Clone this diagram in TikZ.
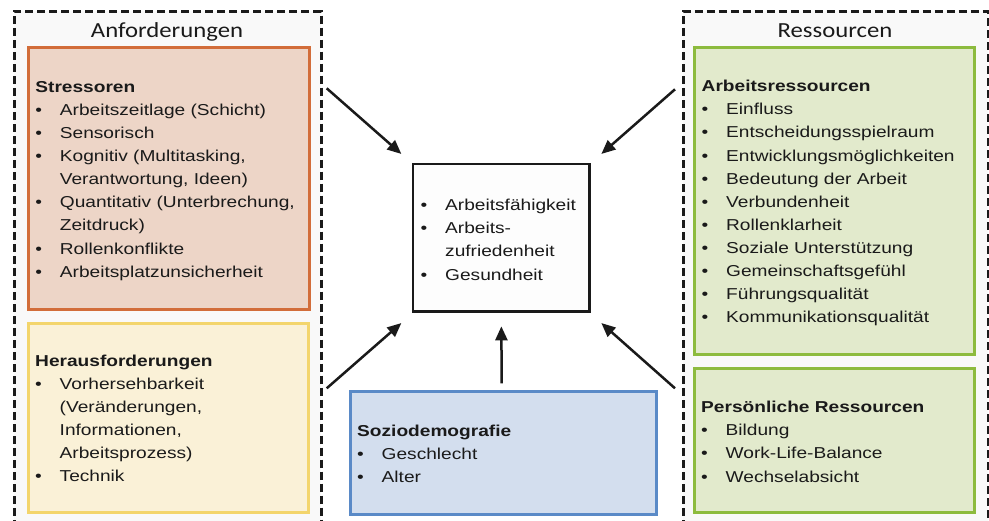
\documentclass[tikz,border=0pt]{standalone}
\usepackage{fontspec}
\setmainfont{Liberation Sans}[FakeStretch=1.21]
\newfontfamily\titlefont{Carlito}[FakeStretch=1.15]
\usetikzlibrary{arrows.meta}
\definecolor{textc}{HTML}{1A1A1A}
\definecolor{dashfill}{HTML}{F9F9F9}
\definecolor{stressfill}{HTML}{EDD5C7}
\definecolor{stressdraw}{HTML}{D26D3A}
\definecolor{herausfill}{HTML}{FAF1D7}
\definecolor{herausdraw}{HTML}{F3D56C}
\definecolor{greenfill}{HTML}{E2EACC}
\definecolor{greendraw}{HTML}{8DBB3E}
\definecolor{bluefill}{HTML}{D3DEEE}
\definecolor{bluedraw}{HTML}{5A8AC7}
\definecolor{centerfill}{HTML}{FDFDFD}
\newcommand\bl{\makebox[24.5pt][l]{•}}
\newcommand\ind{\hspace*{24.5pt}}
\begin{document}
\begin{tikzpicture}[x=1pt,y=1pt,
  group/.style={draw=textc, fill=dashfill, line width=3pt, dash pattern=on 8pt off 4pt},
  panel/.style={line width=3pt},
  txt/.style={anchor=base west, inner sep=0pt, text=textc, font=\fontsize{15.8}{23.1}\selectfont},
  ttl/.style={anchor=base, inner sep=0pt, text=textc, font=\titlefont\fontsize{21.5}{24}\selectfont},
  arr/.style={line width=2.5pt, draw=textc, -{Triangle[length=14pt,width=12pt]}}]
\clip (0,0) rectangle (989,-520);
\fill[white] (0,0) rectangle (989,-520);
% dashed groups
\draw[group] (14,-540) -- (14,-11.3) -- (321,-11.3) -- (321,-540);
\draw[group] (683.3,-540) -- (683.3,-11.3) -- (988,-11.3) -- (988,-540);
\node[ttl] (tA) at (167,-37.3) {Anforderungen};
\node[ttl] (tR) at (835,-37.3) {Ressourcen};
% panels
\path[panel, draw=stressdraw, fill=stressfill] (28.5,-47) rectangle (309,-309.5);
\path[panel, draw=herausdraw, fill=herausfill] (28,-323) rectangle (308,-512.5);
\path[panel, draw=greendraw, fill=greenfill] (694.5,-47) rectangle (974,-354);
\path[panel, draw=greendraw, fill=greenfill] (694.5,-368) rectangle (974,-512.5);
\path[panel, draw=bluedraw, fill=bluefill] (350,-391) rectangle (656,-514.3);
\node[draw=textc, fill=centerfill, line width=2.7pt, minimum width=176.7pt, minimum height=147.3pt, inner sep=0pt] (cbox) at (501.35,-237.65) {};
% texts
\node[txt] (sS) at (35.2,-92.3) {\parbox[t]{270pt}{\raggedright\textbf{Stressoren}\\
\bl Arbeitszeitlage (Schicht)\\
\bl Sensorisch\\
\bl Kognitiv (Multitasking,\\
\ind Verantwortung, Ideen)\\
\bl Quantitativ (Unterbrechung,\\
\ind Zeitdruck)\\
\bl Rollenkonflikte\\
\bl Arbeitsplatzunsicherheit}};
\node[txt] (sH) at (35,-366) {\parbox[t]{270pt}{\raggedright\textbf{Herausforderungen}\\
\bl Vorhersehbarkeit\\
\ind (Veränderungen,\\
\ind Informationen,\\
\ind Arbeitsprozess)\\
\bl Technik}};
\node[txt] (sA) at (701.5,-91.7) {\parbox[t]{270pt}{\raggedright\textbf{Arbeitsressourcen}\\
\bl Einfluss\\
\bl Entscheidungsspielraum\\
\bl Entwicklungsmöglichkeiten\\
\bl Bedeutung der Arbeit\\
\bl Verbundenheit\\
\bl Rollenklarheit\\
\bl Soziale Unterstützung\\
\bl Gemeinschaftsgefühl\\
\bl Führungsqualität\\
\bl Kommunikationsqualität}};
\node[txt] (sP) at (701,-412.7) {\parbox[t]{270pt}{\raggedright\textbf{Persönliche Ressourcen}\\
\bl Bildung\\
\bl Work-Life-Balance\\
\bl Wechselabsicht}};
\node[txt] (sC) at (420.5,-210.7) {\parbox[t]{170pt}{\raggedright
\bl Arbeitsfähigkeit\\
\bl Arbeits-\\
\ind zufriedenheit\\
\bl Gesundheit}};
\node[txt] (sZ) at (357,-436) {\parbox[t]{290pt}{\raggedright\textbf{Soziodemografie}\\
\bl Geschlecht\\
\bl Alter}};
% arrows
\coordinate (s1) at (326.7,-88.3);
\coordinate (s2) at (675,-89.3);
\coordinate (s3) at (326.7,-388.3);
\coordinate (s4) at (675,-388.3);
\coordinate (s5) at (501.7,-383.3);
\coordinate (e1) at ([shift={(-10.3,8.7)}]cbox.north west);
\coordinate (e2) at ([shift={(10.3,8.7)}]cbox.north east);
\coordinate (e3) at ([shift={(-10.3,-10.4)}]cbox.south west);
\coordinate (e4) at ([shift={(10.3,-10.4)}]cbox.south east);
\coordinate (e5) at ([yshift=-13.7pt]cbox.south);
\draw[arr] (s1) -- (e1);
\draw[arr] (s2) -- (e2);
\draw[arr] (s3) -- (e3);
\draw[arr] (s4) -- (e4);
\draw[arr] (s5) -- (e5);
\end{tikzpicture}
\end{document}
